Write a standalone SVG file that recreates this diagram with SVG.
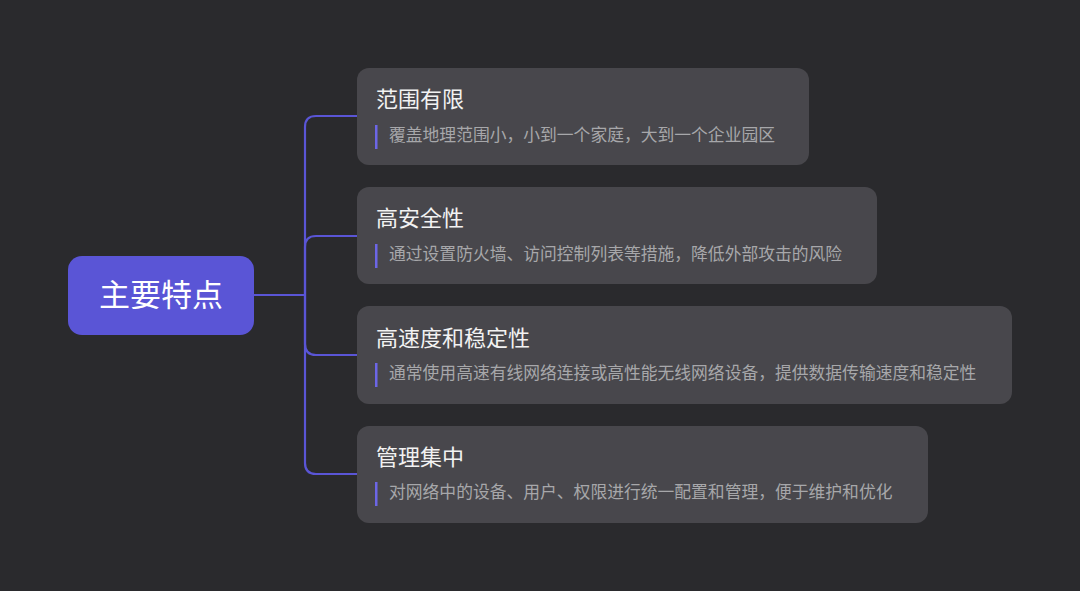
<svg xmlns="http://www.w3.org/2000/svg" width="1080" height="591" viewBox="0 0 1080 591">
<style>
.bg{fill:#2a2a2d}
.card{fill:#48474c}
.title{font-family:"Noto Sans CJK SC","Noto Sans",sans-serif;font-size:22px;fill:#f2f2f2}
.desc{font-family:"Noto Sans CJK SC","Noto Sans",sans-serif;font-size:16.8px;fill:#a7a7aa}
.bar{fill:#6c66e6}
.conn{fill:none;stroke:#5a55d6;stroke-width:2.2}
</style>
<rect class="bg" x="0" y="0" width="1080" height="591"/>
<g id="connectors">
<path class="conn" d="M254,295 H305"/>
<path class="conn" d="M305,295 V127 Q305,116 316,116 H357"/>
<path class="conn" d="M305,295 V247 Q305,236 316,236 H357"/>
<path class="conn" d="M305,295 V344 Q305,355 316,355 H357"/>
<path class="conn" d="M305,295 V463 Q305,474 316,474 H357"/>
</g>
<g id="root">
<rect x="68" y="256" width="186" height="79" rx="14" fill="#5a55d6"/>
<text x="161" y="306" text-anchor="middle" font-family="'Noto Sans CJK SC','Noto Sans',sans-serif" font-size="31" fill="#ffffff">主要特点</text>
</g>
<g id="node1">
<rect class="card" x="357" y="68" width="452" height="97" rx="12"/>
<text class="title" x="376" y="107">范围有限</text>
<rect class="bar" x="375" y="125" width="2.5" height="24"/>
<text class="desc" x="389" y="141">覆盖地理范围小，小到一个家庭，大到一个企业园区</text>
</g>
<g id="node2">
<rect class="card" x="357" y="187" width="520" height="97" rx="12"/>
<text class="title" x="376" y="226">高安全性</text>
<rect class="bar" x="375" y="244" width="2.5" height="24"/>
<text class="desc" x="389" y="260">通过设置防火墙、访问控制列表等措施，降低外部攻击的风险</text>
</g>
<g id="node3">
<rect class="card" x="357" y="306" width="655" height="98" rx="12"/>
<text class="title" x="376" y="346">高速度和稳定性</text>
<rect class="bar" x="375" y="363" width="2.5" height="24"/>
<text class="desc" x="389" y="379">通常使用高速有线网络连接或高性能无线网络设备，提供数据传输速度和稳定性</text>
</g>
<g id="node4">
<rect class="card" x="357" y="426" width="571" height="97" rx="12"/>
<text class="title" x="376" y="465">管理集中</text>
<rect class="bar" x="375" y="482" width="2.5" height="24"/>
<text class="desc" x="389" y="498">对网络中的设备、用户、权限进行统一配置和管理，便于维护和优化</text>
</g>
</svg>
